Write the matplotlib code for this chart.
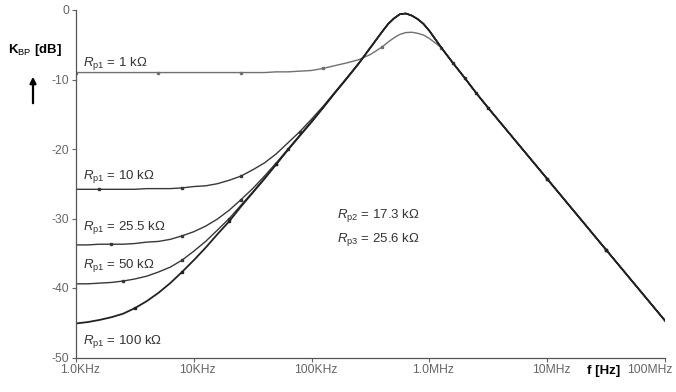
import matplotlib
matplotlib.use('Agg')
import matplotlib.pyplot as plt
from matplotlib.ticker import FixedLocator, NullLocator
from matplotlib.transforms import ScaledTranslation

plt.rcParams['font.family'] = ['Liberation Sans', 'DejaVu Sans']
plt.rcParams['mathtext.fontset'] = 'custom'
plt.rcParams['mathtext.rm'] = 'Liberation Sans'
plt.rcParams['mathtext.it'] = 'Liberation Sans:italic'
plt.rcParams['mathtext.bf'] = 'Liberation Sans:bold'

# Frequenz (Hz) und K_BP (dB)
freq = [1.0e3, 1.26e3, 1.58e3, 2.0e3, 2.51e3, 3.16e3, 3.98e3, 5.01e3, 6.31e3, 7.94e3,
        1.0e4, 1.26e4, 1.58e4, 2.0e4, 2.51e4, 3.16e4, 3.98e4, 5.01e4, 6.31e4, 7.94e4,
        1.0e5, 1.26e5, 1.58e5, 2.0e5, 2.51e5, 3.16e5, 3.98e5, 4.47e5, 5.01e5, 5.62e5,
        6.31e5, 7.08e5, 7.94e5, 8.91e5, 1.0e6, 1.26e6, 1.58e6, 2.0e6, 2.51e6, 3.16e6,
        1.0e7, 3.16e7, 1.0e8]

k_1k = [-9.0, -9.0, -9.0, -9.0, -9.0, -9.0, -9.0, -9.0, -9.0, -9.0,
        -9.0, -9.0, -9.0, -9.0, -9.0, -9.0, -9.0, -8.9, -8.9, -8.8,
        -8.7, -8.4, -8.0, -7.6, -7.15, -6.4, -5.3, -4.6, -4.0, -3.5,
        -3.25, -3.2, -3.35, -3.6, -4.1, -5.4, -7.6, -9.8, -12.0, -14.1,
        -24.3, -34.5, -44.7]

k_10k = [-25.8, -25.8, -25.8, -25.8, -25.8, -25.8, -25.7, -25.7, -25.7, -25.6,
         -25.4, -25.3, -25.0, -24.5, -23.9, -23.0, -22.0, -20.7, -19.1, -17.5,
         -15.7, -13.8, -11.8, -9.7, -7.7, -5.4, -3.1, -2.0, -1.2, -0.6,
         -0.5, -0.8, -1.3, -2.0, -3.0, -5.4, -7.6, -9.8, -12.0, -14.1,
         -24.3, -34.5, -44.7]

k_25k = [-33.8, -33.8, -33.7, -33.7, -33.7, -33.6, -33.4, -33.3, -33.0, -32.5,
         -31.9, -31.1, -30.1, -28.8, -27.3, -25.7, -23.9, -22.0, -20.0, -18.0,
         -16.0, -14.0, -11.9, -9.8, -7.7, -5.4, -3.1, -2.0, -1.2, -0.6,
         -0.5, -0.8, -1.3, -2.0, -3.0, -5.4, -7.6, -9.8, -12.0, -14.1,
         -24.3, -34.5, -44.7]

k_50k = [-39.4, -39.4, -39.3, -39.2, -39.0, -38.7, -38.3, -37.7, -37.0, -36.0,
         -34.7, -33.3, -31.7, -30.0, -28.1, -26.2, -24.2, -22.2, -20.1, -18.1,
         -16.1, -14.0, -11.9, -9.8, -7.7, -5.4, -3.1, -2.0, -1.2, -0.6,
         -0.5, -0.8, -1.3, -2.0, -3.0, -5.4, -7.6, -9.8, -12.0, -14.1,
         -24.3, -34.5, -44.7]

k_100k = [-45.1, -44.9, -44.6, -44.2, -43.7, -42.9, -41.9, -40.7, -39.3, -37.7,
          -36.0, -34.2, -32.3, -30.4, -28.3, -26.3, -24.3, -22.2, -20.1, -18.1,
          -16.1, -14.0, -11.9, -9.8, -7.7, -5.4, -3.1, -2.0, -1.2, -0.6,
          -0.5, -0.8, -1.3, -2.0, -3.0, -5.4, -7.6, -9.8, -12.0, -14.1,
          -24.3, -34.5, -44.7]

x_ticks = [1e3, 1e4, 1e5, 1e6, 1e7, 1e8]
x_labels = ['1.0KHz', '10KHz', '100KHz', '1.0MHz', '10MHz', '100MHz']
y_ticks = [-50, -40, -30, -20, -10, 0]

W, H = 676, 392
fig = plt.figure(figsize=(W / 100, H / 100), dpi=100)
ax = fig.add_axes([76 / W, 1 - 357.5 / H, 589 / W, 347.5 / H])

curves = [
    (k_1k, '#707070', 1.0, [0, 7, 14, 21, 26, 35, 40, 41]),
    (k_10k, '#383838', 1.0, [2, 9, 14, 19, 37, 40]),
    (k_25k, '#383838', 1.0, [3, 9, 14, 18, 36, 41]),
    (k_50k, '#383838', 1.0, [4, 9, 13, 17, 38, 40]),
    (k_100k, '#222222', 1.3, [5, 9, 13, 17, 39, 41]),
]
for vals, col, lw, marks in curves:
    ax.plot(freq, vals, color=col, lw=lw, marker='s', ms=1.5, markevery=marks)

ax.set_xscale('log')
ax.set_xlim(1e3, 1e8)
ax.set_ylim(-50, 0)
ax.xaxis.set_major_locator(FixedLocator(x_ticks))
ax.xaxis.set_minor_locator(NullLocator())
ax.set_xticklabels(x_labels)
ax.set_yticks(y_ticks)
ax.set_yticklabels([str(v) for v in y_ticks])
ax.tick_params(direction='out', length=3, width=0.8, colors='#666666',
               labelsize=8.7, pad=2)
ax.spines['top'].set_visible(False)
ax.spines['right'].set_visible(False)
for s in ['left', 'bottom']:
    ax.spines[s].set_color('#555555')
    ax.spines[s].set_linewidth(0.9)

# letzte Beschriftung nach links, damit sie ins Bild passt
for i, lab in enumerate(ax.get_xticklabels()):
    dx = 4 if i < 5 else -15
    lab.set_transform(lab.get_transform() + ScaledTranslation(dx / 100, 0, fig.dpi_scale_trans))

def px(x, y):
    return x / W, 1 - y / H

tc = '#333333'
labels = [('1', 64), ('10', 177), ('25.5', 228), ('50', 265), ('100', 342)]
for r, y in labels:
    fig.text(*px(83, y), r'$R_{\rm p1}$ = ' + r + ' kΩ', fontsize=9.5,
             color=tc, va='center', ha='left')
fig.text(*px(337, 215), r'$R_{\rm p2}$ = 17.3 kΩ', fontsize=9.5, color=tc,
         va='center', ha='left')
fig.text(*px(337, 240), r'$R_{\rm p3}$ = 25.6 kΩ', fontsize=9.5, color=tc,
         va='center', ha='left')

fig.text(*px(8, 50), r'K$_{\rm BP}$ [dB]', fontsize=9.5, fontweight='bold',
         va='center', ha='left')
fig.text(*px(604, 371), 'f [Hz]', fontsize=9.5, fontweight='bold',
         va='center', ha='center')
ax.annotate('', xy=(33, H - 74), xytext=(33, H - 106), xycoords='figure pixels',
            textcoords='figure pixels',
            arrowprops=dict(arrowstyle='-|>', color='black', lw=1.6,
                            mutation_scale=9))

fig.savefig('out.png', dpi=100)
